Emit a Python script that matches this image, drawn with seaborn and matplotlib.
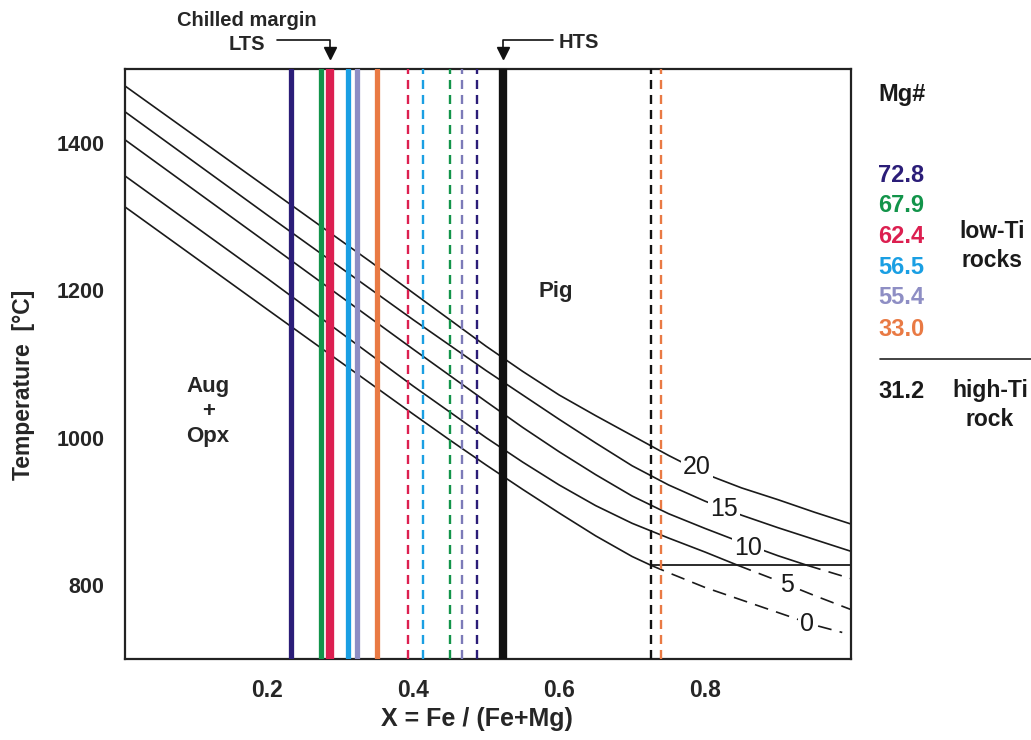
import numpy as np
import pandas as pd
import matplotlib
matplotlib.use("Agg")
import matplotlib.pyplot as plt
from matplotlib.lines import Line2D
from matplotlib.transforms import blended_transform_factory
import seaborn as sns

# ---------------- data ----------------
# pressure isopleths (kbar) : X = Fe/(Fe+Mg) vs temperature (°C)
p_labels = ["0", "5", "10", "15", "20"]
x_p0 = [0.005, 0.2, 0.4, 0.45, 0.5, 0.55, 0.6, 0.65, 0.7, 0.726, 0.75, 0.8, 0.85, 0.9, 0.95, 0.988]
t_p0 = [1313, 1174, 1032, 997, 963, 930, 898, 867, 839, 827, 817, 797, 780, 763, 746, 736]
x_p5 = [0.005, 0.2, 0.4, 0.5, 0.55, 0.6, 0.65, 0.7, 0.75, 0.8, 0.845, 0.9, 0.95, 1.0]
t_p5 = [1355, 1216, 1070, 1000, 967, 936, 908, 884, 864, 845, 827, 806, 786, 767]
x_p10 = [0.005, 0.2, 0.4, 0.5, 0.55, 0.6, 0.65, 0.7, 0.75, 0.8, 0.85, 0.9, 0.94, 1.0]
t_p10 = [1404, 1264, 1120, 1049, 1014, 981, 950, 921, 897, 877, 858, 840, 827, 809]
x_p15 = [0.005, 0.2, 0.4, 0.5, 0.55, 0.6, 0.65, 0.7, 0.75, 0.8, 0.85, 0.9, 0.95, 1.0]
t_p15 = [1442, 1302, 1160, 1091, 1058, 1025, 993, 962, 936, 914, 895, 878, 862, 846]
x_p20 = [0.005, 0.204, 0.341, 0.5, 0.55, 0.6, 0.65, 0.7, 0.75, 0.8, 0.85, 0.9, 0.95, 1.0]
t_p20 = [1477, 1336, 1239, 1124, 1090, 1058, 1030, 1003, 976, 951, 932, 916, 899, 883]

# curve label positions (x, T)
lab_x = [0.940, 0.912, 0.859, 0.826, 0.789]
lab_t = [747, 801, 851, 904, 960]

# horizontal solidus line
solidus_t = 827
solidus_x = [0.726, 1.0]

# Mg# of rocks
mg_values = ["72.8", "67.9", "62.4", "56.5", "55.4", "33.0"]
mg_colors = ["#2b1d78", "#12944a", "#dc1f50", "#1a9fe3", "#8e8ec4", "#e97a44"]
# LTS compositions (solid) and HTS compositions (dashed)
lts_x = [0.233, 0.274, 0.286, 0.310, 0.323, 0.351]
lts_w = [3.8, 3.8, 6.0, 3.8, 3.8, 3.8]
hts_x = [0.393, 0.414, 0.451, 0.467, 0.488]
hts_colors = ["#dc1f50", "#1a9fe3", "#12944a", "#7c7ab8", "#2b1d78"]
hts_chilled_x = 0.523
hiti_x = 0.726
hiti_orange_x = 0.740
hiti_value = "31.2"

x_major = [0.2, 0.4, 0.6, 0.8]
x_minor = [0.1, 0.3, 0.5, 0.7, 0.9]
y_major = [800, 1000, 1200, 1400]
y_minor = [900, 1100, 1300]

# ---------------- style ----------------
sns.set_style("white")
plt.rcParams["font.family"] = ["Liberation Sans", "DejaVu Sans"]
plt.rcParams["lines.scale_dashes"] = False

W, H = 1031, 740
fig = plt.figure(figsize=(W / 100, H / 100), dpi=100)
L, R, T, B = 125, 851, 69, 659
ax = fig.add_axes([L / W, 1 - B / H, (R - L) / W, (B - T) / H])

def fx(px):
    return px / W

def fy(py):
    return 1 - py / H

# ---------------- curves ----------------
curves = [(x_p0, t_p0), (x_p5, t_p5), (x_p10, t_p10), (x_p15, t_p15), (x_p20, t_p20)]
for xs, ts in curves:
    df = pd.DataFrame({"x": xs, "T": ts})
    solid = df[df["T"] >= solidus_t]
    dashed = df[df["T"] <= solidus_t]
    sns.lineplot(data=solid, x="x", y="T", ax=ax, color="#1a1a1a", lw=1.2,
                 sort=False, estimator=None, zorder=2)
    if len(dashed) > 1:
        sns.lineplot(data=dashed, x="x", y="T", ax=ax, color="#1a1a1a", lw=1.2,
                     sort=False, estimator=None, linestyle=(0, (10, 6)), zorder=2)

sol = pd.DataFrame({"x": solidus_x, "T": [solidus_t] * len(solidus_x)})
sns.lineplot(data=sol, x="x", y="T", ax=ax, color="#1a1a1a", lw=1.3,
             estimator=None, zorder=2)

for lab, lx, lt in zip(p_labels, lab_x, lab_t):
    ax.text(lx, lt, lab, fontsize=18, ha="center", va="center", color="#1a1a1a",
            bbox=dict(fc="white", ec="none", pad=1.5), zorder=4)

# ---------------- vertical composition lines ----------------
for xv, c, w in zip(lts_x, mg_colors, lts_w):
    ax.axvline(xv, color=c, lw=w, zorder=3)
for xv, c in zip(hts_x, hts_colors):
    ax.axvline(xv, color=c, lw=1.7, ls=(0, (6.5, 4.3)), zorder=3)
ax.axvline(hts_chilled_x, color="#111111", lw=6.0, zorder=3)
ax.axvline(hiti_x, color="#111111", lw=1.7, ls=(0, (6.5, 4.3)), zorder=3)
ax.axvline(hiti_orange_x, color=mg_colors[-1], lw=1.7, ls=(0, (6.5, 4.3)), zorder=3)

# ---------------- axes ----------------
ax.set_xlim(0.005, 1.0)
ax.set_ylim(700, 1500)
ax.set_xticks(x_major)
ax.set_xticks(x_minor, minor=True)
ax.set_xticklabels([f"{v:.1f}" for v in x_major])
ax.set_yticks(y_major)
ax.set_yticks(y_minor, minor=True)
ax.set_yticklabels([str(v) for v in y_major])
ax.tick_params(axis="x", which="both", direction="in", length=6.5, width=1.0,
               color="#333333", pad=14.5)
ax.tick_params(axis="y", which="both", direction="in", length=10, width=1.0,
               color="#333333", pad=15)
for lbl in ax.get_xticklabels():
    lbl.set_fontweight("bold")
    lbl.set_fontsize(16.5)
for lbl in ax.get_yticklabels():
    lbl.set_fontweight("bold")
    lbl.set_fontsize(15.5)
for s in ax.spines.values():
    s.set_linewidth(1.6)
    s.set_color("#222222")

ax.set_xlabel("X = Fe / (Fe+Mg)", fontsize=18, fontweight="bold")
ax.xaxis.set_label_coords((477 - L) / (R - L), -(707 - B) / (B - T))
ax.set_ylabel("Temperature  [°C]", fontsize=16.5, fontweight="bold")
ax.yaxis.set_label_coords((35 - L) / (R - L), (B - 385) / (B - T))

# phase field labels
ax.text(0.119, 1036, "Aug\n+\nOpx", fontsize=16, fontweight="bold", ha="center",
        va="center", linespacing=1.25)
ax.text(0.595, 1198, "Pig", fontsize=16, fontweight="bold", ha="center", va="center")

# ---------------- top annotations ----------------
fig.text(fx(247), fy(20), "Chilled margin", fontsize=14.5, fontweight="bold",
         ha="center", va="center")
fig.text(fx(247), fy(44), "LTS", fontsize=14.5, fontweight="bold", ha="center", va="center")
fig.text(fx(579), fy(42), "HTS", fontsize=14.5, fontweight="bold", ha="center", va="center")

bt = blended_transform_factory(ax.transData, fig.transFigure)
lts_arrow_x = lts_x[2]
x_lts_start = (277 - L) / (R - L) * (1.0 - 0.005) + 0.005
x_hts_start = (553 - L) / (R - L) * (1.0 - 0.005) + 0.005
fig.add_artist(Line2D([x_lts_start, lts_arrow_x, lts_arrow_x], [fy(40), fy(40), fy(50)],
                      transform=bt, color="#111111", lw=1.2))
fig.add_artist(Line2D([lts_arrow_x], [fy(52.5)], transform=bt, marker="v", ms=8,
                      color="#111111", mec="#111111"))
fig.add_artist(Line2D([x_hts_start, hts_chilled_x, hts_chilled_x], [fy(40), fy(40), fy(50)],
                      transform=bt, color="#111111", lw=1.2))
fig.add_artist(Line2D([hts_chilled_x], [fy(52.5)], transform=bt, marker="v", ms=8,
                      color="#111111", mec="#111111"))

# ---------------- right-hand legend ----------------
fig.text(fx(878), fy(94), "Mg#", fontsize=17, fontweight="bold", ha="left", va="center",
         color="#1a1a1a")
mg_y = [175, 206, 236, 267, 298, 329]
for v, c, yy in zip(mg_values, mg_colors, mg_y):
    fig.text(fx(878), fy(yy), v, fontsize=17, fontweight="bold", ha="left",
             va="center", color=c)
fig.text(fx(992), fy(246), "low-Ti\nrocks", fontsize=16.5, fontweight="bold",
         ha="center", va="center", color="#1a1a1a", linespacing=1.3)
fig.add_artist(Line2D([fx(880), fx(1031)], [fy(359), fy(359)], color="#222222", lw=1.2))
fig.text(fx(878), fy(392), hiti_value, fontsize=17, fontweight="bold", ha="left",
         va="center", color="#1a1a1a")
fig.text(fx(990), fy(405), "high-Ti\nrock", fontsize=16.5, fontweight="bold",
         ha="center", va="center", color="#1a1a1a", linespacing=1.3)

fig.savefig("out.png", dpi=100)
